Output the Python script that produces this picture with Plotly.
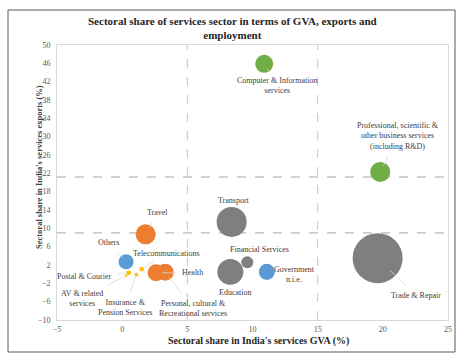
import plotly.graph_objects as go

# ---------------- data ----------------
sectors = [
    "Computer & Information services",
    "Professional, scientific & other business services (including R&D)",
    "Transport", "Travel", "Others", "Telecommunications", "Health",
    "Personal, cultural & Recreational services", "Insurance & Pension Services",
    "Postal & Courier", "AV & related services", "Education",
    "Financial Services", "Government n.i.e.", "Trade & Repair",
]
gva_share = [10.9, 19.8, 8.4, 1.8, 0.3, 1.5, 2.6, 3.3, 1.1, 0.5, 0.3, 8.3, 9.6, 11.1, 19.6]
export_share = [45.9, 22.3, 11.4, 8.7, 2.7, 1.1, 0.3, 0.4, -0.1, 0.3, -0.3, 0.5, 2.6, 0.5, 3.5]
employment_share = [4.3, 5.3, 11.9, 5.3, 3.0, 0.3, 3.8, 3.8, 0.2, 0.3, 0.1, 8.9, 1.9, 3.4, 33.0]
groups = ["green", "green", "grey", "orange", "blue", "yellow", "orange",
          "orange", "yellow", "yellow", "yellow", "grey", "grey", "blue", "grey"]
label_text = [
    "Computer & Information<br>services",
    "Professional, scientific &<br>other business services<br>(including R&D)",
    "Transport", "Travel", "Others", "Telecommunications", "Health",
    "Personal, cultural &<br>Recreational services", "Insurance &<br>Pension Services",
    "Postal & Courier", "AV & related<br>services", "Education",
    "Financial Services", "Government<br>n.i.e.", "Trade & Repair",
]
x_ticks = [-5, 0, 5, 10, 15, 20, 25]
y_ticks = [50, 46, 42, 38, 34, 30, 26, 22, 18, 14, 10, 6, 2, -2, -6, -10]
ref_lines_x = [5, 15]
ref_lines_y = [21.2, 9.0]

# ---------------- styling ----------------
palette = {"green": "#70AD47", "orange": "#ED7D31", "grey": "#7F7F7F",
           "blue": "#5B9BD5", "yellow": "#FFC000"}
# label offsets (pixels, text centre relative to bubble centre) and leader flag
label_dx = [13, 18, 2, 12, -18, 25, 36, 28, -12, -44, -44, 5, 12, 28, 38]
label_dy = [22, -36, -21, -22, -19, -16, 0, 36, 33, 4, 23, 21, -13, 3, 37]
leader = [True, True, False, True, True, True, True, True, True, True, True, False, True, False, True]

SERIF = "Liberation Serif"
max_diam = 50
sizeref = 2.0 * max(employment_share) / (max_diam ** 2)

fig = go.Figure()
fig.add_trace(go.Scatter(
    x=gva_share, y=export_share, mode="markers",
    marker=dict(size=employment_share, sizemode="area", sizeref=sizeref,
                color=[palette[g] for g in groups], opacity=1,
                line=dict(width=0)),
    text=sectors, hoverinfo="text", showlegend=False,
))

for xv in ref_lines_x:
    fig.add_shape(type="line", xref="x", yref="paper", x0=xv, x1=xv, y0=0, y1=1,
                  line=dict(color="#C8C8C8", width=1, dash="dash"), layer="below")
for yv in ref_lines_y:
    fig.add_shape(type="line", xref="paper", yref="y", x0=0, x1=1, y0=yv, y1=yv,
                  line=dict(color="#A6A6A6", width=1, dash="dash"), layer="below")

# outer chart frame
fig.add_shape(type="rect", xref="paper", yref="paper",
              x0=(8 - 57) / 391, x1=(455 - 57) / 391,
              y0=(320 - 352) / 275, y1=(320 - 10) / 275,
              line=dict(color="#595959", width=1), fillcolor="rgba(0,0,0,0)")

for i in range(len(sectors)):
    d = (employment_share[i] / sizeref) ** 0.5
    fig.add_annotation(
        x=gva_share[i], y=export_share[i], text=label_text[i],
        showarrow=True, ax=label_dx[i], ay=label_dy[i],
        arrowhead=0, arrowwidth=0.8,
        arrowcolor="#D9D9D9" if leader[i] else "rgba(0,0,0,0)",
        standoff=d / 2, startstandoff=4,
        font=dict(family=SERIF, size=8, color="#404040"),
        align="center",
    )

# chart title
fig.add_annotation(xref="paper", yref="paper", x=(232 - 57) / 391, y=(320 - 28) / 275,
                   xanchor="center", yanchor="middle", showarrow=False,
                   text="<b>Sectoral share of services sector in terms of GVA, exports and<br>employment</b>",
                   font=dict(family=SERIF, size=11, color="#262626"))
# axis titles
fig.add_annotation(xref="paper", yref="paper", x=0, y=(320 - 167) / 275,
                   xshift=-25, textangle=-90, showarrow=False,
                   text="<b>Sectoral share in India's services exports (%)</b>",
                   font=dict(family=SERIF, size=8.5, color="#404040"))
fig.add_annotation(xref="paper", yref="paper", x=(258 - 57) / 391, y=0,
                   yshift=-21, yanchor="middle", showarrow=False,
                   text="<b>Sectoral share in India's services GVA (%)</b>",
                   font=dict(family=SERIF, size=10, color="#262626"))

fig.update_layout(
    width=459, height=358,
    margin=dict(l=57, r=11, t=45, b=38),
    paper_bgcolor="white", plot_bgcolor="white",
    xaxis=dict(range=[-5, 25], tickvals=x_ticks, showgrid=False, zeroline=False,
               showline=True, linecolor="#D9D9D9", linewidth=1, mirror=True,
               ticks="", ticklabelstandoff=1, automargin=False,
               tickfont=dict(family=SERIF, size=8, color="#595959")),
    yaxis=dict(range=[-10, 50], tickvals=y_ticks, showgrid=False, zeroline=False,
               showline=True, linecolor="#D9D9D9", linewidth=1, mirror=True,
               ticks="", ticklabelstandoff=4, automargin=False,
               tickfont=dict(family=SERIF, size=8, color="#595959")),
)

fig.write_html("out.html", config={"displayModeBar": False},
               post_script="document.body.style.margin='0';document.body.style.overflow='hidden';")
